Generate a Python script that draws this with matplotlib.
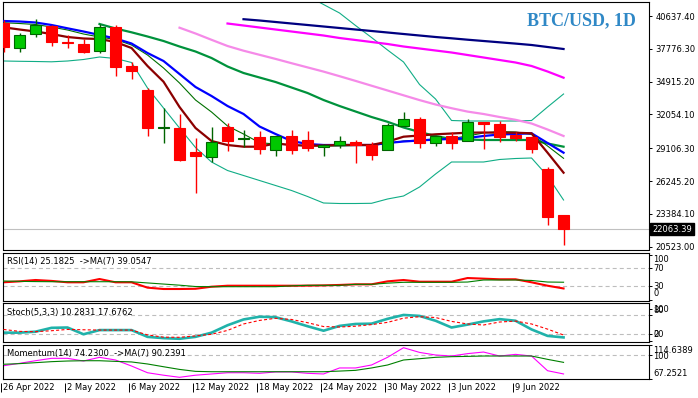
import numpy as np
import matplotlib
matplotlib.use("Agg")
import matplotlib.pyplot as plt
from matplotlib.transforms import blended_transform_factory as btf

nan = np.nan

# ---------------- data ----------------
tick_labels = ['26 Apr 2022', '2 May 2022', '6 May 2022', '12 May 2022', '18 May 2022',
               '24 May 2022', '30 May 2022', '3 Jun 2022', '9 Jun 2022']
label_every = 4

opens = [40053, 37847, 39068, 39766, 38300, 38196, 37586, 39678, 36278, 34185, 30850, 30872,
         28780, 28344, 30959, 29900, 30114, 28980, 30175, 29826, 29189, 29364, 29651, 29416,
         28980, 31073, 31657, 29538, 30148, 29765, 31395, 31221, 30236, 30087, 27297, 23287]
highs = [40289, 39155, 40350, 39853, 38981, 38632, 39940, 39853, 36627, 34360, 32616, 32093,
         30000, 30959, 31308, 30698, 30637, 30175, 30698, 30611, 29477, 30175, 29826, 29678,
         31308, 32267, 31831, 30175, 30550, 31631, 31395, 31456, 30523, 30175, 27498, 23287]
lows = [37525, 37525, 38780, 38022, 37847, 37411, 37440, 35406, 35144, 30175, 29564, 27995,
        25205, 27908, 28867, 29242, 28605, 28457, 28605, 28893, 28457, 29154, 27847, 28082,
        28954, 31047, 29155, 29329, 29041, 29739, 29067, 29678, 29765, 28719, 22415, 20671]
closes = [37961, 38981, 39853, 38370, 38283, 37499, 39678, 36191, 35842, 30872, 30872, 28082,
          28431, 29651, 29738, 29913, 29067, 30148, 28980, 29154, 29390, 29739, 29364, 28544,
          31134, 31657, 29538, 30148, 29538, 31395, 31247, 30114, 30026, 29067, 23138, 22063.39]

ma_maroon = [39652, 39460, 39286, 39068, 38806, 38676, 38632, 38370, 37847, 36278, 34909, 32703,
             30872, 29739, 29390, 29242, 29242, 29521, 29390, 29329, 29346, 29390, 29390, 29390,
             29678, 30114, 30218, 30323, 30393, 30462, 30480, 30462, 30462, 30410, 28719, 26975]
ma_blue = [40201, 40158, 40071, 39853, 39565, 39286, 38981, 38676, 38240, 37411, 36714, 35580,
           34447, 33662, 32790, 32093, 31003, 30349, 29739, 29477, 29390, 29390, 29390, 29390,
           29564, 29695, 29782, 29869, 29913, 30000, 30175, 30305, 30349, 30410, 29564, 28719]
ma_thin = [40053, 39983, 39896, 39678, 39417, 39068, 38806, 38588, 38109, 37237, 36104, 34796,
           33313, 32267, 31047, 30349, 29590, 29477, 29390, 29303, 29303, 29303, 29346, 29346,
           29520, 29739, 29826, 29913, 29957, 30175, 30436, 30567, 30523, 30305, 29303, 28230]
ma_green = [nan] * 6 + [39940, 39548, 39216, 38850, 38458, 37978, 37542, 36975, 36234, 35668,
                        35275, 34883, 34403, 33923, 33313, 32790, 32311, 31831, 31413, 30916,
                        30523, 30175, 29913, 29869, 29826, 29826, 29826, 29826, 29521, 29242]
ma_pink = [nan] * 11 + [39617, 39112, 38562, 38022, 37612, 37254, 36897, 36522, 36156, 35790,
                        35389, 34979, 34560, 34142, 33723, 33305, 32921, 32598, 32302, 32093,
                        31831, 31587, 31264, 30741, 30175]
ma_magenta = [nan] * 14 + [39983, 39809, 39635, 39460, 39286, 39112, 38937, 38719, 38545, 38370,
                           38196, 37978, 37804, 37629, 37455, 37237, 37019, 36801, 36583, 36278,
                           35798, 35258]
ma_navy = [nan] * 15 + [40358, 40245, 40114, 39983, 39853, 39722, 39591, 39460, 39330, 39199,
                        39068, 38937, 38806, 38693, 38571, 38458, 38344, 38231, 38109, 37935,
                        37760]
bb_upper = [nan] * 19 + [42381, 41640, 40899, 39809, 38763, 37673, 36627, 34665, 33401, 31526,
                         31482, 31482, 31482, 31482, 31526, 32703, 33837]
bb_lower = [36714, 36688, 36670, 36644, 36714, 36845, 37063, 36932, 36583, 34360, 32616, 30872,
            29172, 27908, 27166, 26731, 26295, 25859, 25423, 24900, 24333, 24289, 24289, 24307,
            24682, 24943, 25728, 26861, 27908, 27908, 27908, 28126, 28213, 28256, 26687, 24594]

price_ticks = [40637.40, 37776.30, 34915.20, 32054.10, 29106.30, 26245.20, 23384.10, 20523.00]
last_price = 22063.39

rsi = [38.9, 41, 44, 42, 38.9, 38.9, 46.2, 38.9, 38.9, 27, 24, 24, 24.5, 29.1, 31.3, 31.3,
       31.3, 31.3, 31.3, 31.5, 32, 33, 34.4, 34.4, 41, 44, 40.2, 40.2, 40.2, 48.4, 47, 45.6,
       45.6, 38.9, 31.3, 25.1825]
rsi_ma = [41.8, 41, 40.5, 40.2, 40.2, 40.2, 40.2, 40.2, 40, 37.5, 35, 32.5, 29.5, 29.1, 29.1,
          29.1, 29.1, 29.1, 31, 32.2, 32.2, 32.2, 34.4, 34.4, 37, 38.9, 38.9, 38.9, 38.9, 39.5,
          44, 44, 44, 43, 39.5, 39.0547]
stoch_k = [25, 25, 28, 40, 41, 20, 33, 33, 33, 12, 8, 6, 12, 25, 48, 66, 74.5, 73, 60, 45, 31,
           46, 52, 53, 68, 80, 77, 62, 41, 50, 60, 67, 62, 35, 15, 10.2831]
stoch_d = [35, 29, 28, 31, 35, 34, 33, 33, 33, 18, 11, 10.6, 15, 20, 32, 52, 63, 69.6, 66, 56,
           44, 42.5, 45, 50, 57, 70, 74.5, 72, 60, 52, 48.8, 58, 61, 52, 36, 17.6762]
momentum = [85.6, 88.9, 92.5, 95.8, 95.8, 92.1, 97.2, 93.5, 85.2, 75.9, 72.5, 69.6, 72.5, 74.2,
            75.9, 75.9, 75.1, 77, 77, 75.1, 74.2, 82.5, 82.5, 86.6, 97.2, 110.5, 104, 100.4, 99,
            102.3, 104.5, 99, 101.3, 99, 78.7, 74.23]
mom_ma = [87.6, 88.5, 89.8, 91.2, 92.1, 92.5, 92.5, 91.6, 90.8, 88, 84.2, 80.5, 77.8, 77.3, 77.3,
          77.3, 77.3, 77.3, 77.3, 77.3, 77.3, 78.2, 79.2, 82.5, 86.6, 93.5, 95.3, 97.2, 98.1,
          98.5, 99, 99, 99, 99, 94.4, 90.2391]

rsi_levels = [70, 30]
stoch_levels = [80, 20]
mom_levels = [100]
mom_max, mom_min = 114.6389, 67.2521

# ---------------- figure ----------------
plt.rcParams['font.family'] = ['DejaVu Sans']
plt.rcParams['lines.scale_dashes'] = False

W, H = 698, 398
fig = plt.figure(figsize=(W / 100, H / 100), dpi=100)
fig.patch.set_facecolor('white')
L, R = 2.5, 649.0
n = len(closes)
x = np.arange(n)
XL = (-0.0625, 40.34)


def panel(top, bottom):
    a = fig.add_axes([L / W, 1 - bottom / H, (R - L) / W, (bottom - top) / H])
    for s in a.spines.values():
        s.set_linewidth(0.8)
        s.set_color('black')
    a.set_xlim(*XL)
    a.set_xticks([])
    a.yaxis.tick_right()
    a.tick_params(axis='y', direction='out', length=2.2, width=0.7, labelsize=6, pad=2.4,
                  colors='black')
    return a


ax = panel(2.3, 249.5)
ax_rsi = panel(252.7, 301.0)
ax_sto = panel(303.3, 342.0)
ax_mom = panel(344.7, 379.0)

# ---- main price panel ----
ax.set_ylim(20278.5, 41832)
ax.axhline(last_price, color='#c0c0c0', lw=0.8, zorder=1)
ax.plot(x, bb_upper, color='#10ad86', lw=0.8, zorder=2)
ax.plot(x, bb_lower, color='#10ad86', lw=0.8, zorder=2)
ax.plot(x, ma_navy, color='#000080', lw=1.6, zorder=3)
ax.plot(x, ma_magenta, color='#ff00ff', lw=1.6, zorder=3)
ax.plot(x, ma_pink, color='#f58ae8', lw=1.6, zorder=3)
ax.plot(x, ma_green, color='#00923c', lw=1.6, zorder=3)
ax.plot(x, ma_thin, color='#007000', lw=0.8, zorder=3)
ax.plot(x, ma_blue, color='#0000ff', lw=1.6, zorder=3)
ax.plot(x, ma_maroon, color='#8b0000', lw=1.6, zorder=3)

o, h, l, c = (np.array(v, dtype=float) for v in (opens, highs, lows, closes))
up = c > o
body_col = np.where(up, '#00c800', '#ff0000')
edge_col = np.where(up, '#006400', '#ff0000')
ax.vlines(x, l, h, colors=edge_col, linewidth=1.0, zorder=5)
ax.bar(x, np.maximum(np.abs(c - o), 90), bottom=np.minimum(o, c), width=0.64,
       color=body_col, edgecolor=edge_col, linewidth=0.8, zorder=6)

ax.set_yticks(price_ticks)
ax.set_yticklabels([f'{v:.2f}' for v in price_ticks])
ax.annotate(f'{last_price:.2f}', xy=(1, last_price), xycoords=btf(ax.transAxes, ax.transData),
            xytext=(2.3, 0), textcoords='offset points', ha='left', va='center', fontsize=6,
            color='white', bbox=dict(boxstyle='square,pad=0.22', fc='black', ec='black'),
            annotation_clip=False, zorder=10)

fig.text(636 / W, 1 - 25.5 / H, 'BTC/USD, 1D', ha='right', va='baseline', fontsize=13,
         fontweight='bold', family='Liberation Serif', color='#2f88c6')

dash_grid = dict(color='#bdbdbd', lw=0.8, ls=(0, (2.9, 2.2)), zorder=1)

# ---- RSI ----
ax_rsi.set_ylim(-2.67, 104.7)
for lv in rsi_levels:
    ax_rsi.axhline(lv, **dash_grid)
ax_rsi.plot(x, rsi_ma, color='#008000', lw=0.8, zorder=3)
ax_rsi.plot(x, rsi, color='#ff0000', lw=1.5, zorder=2)
ax_rsi.set_yticks([100] + rsi_levels + [0])
ax_rsi.set_yticklabels([])

# ---- Stochastic ----
ax_sto.set_ylim(-4.0, 116.2)
for lv in stoch_levels:
    ax_sto.axhline(lv, **dash_grid)
ax_sto.plot(x, stoch_d, color='#ff0000', lw=0.8, ls=(0, (2.2, 1.6)), zorder=3)
ax_sto.plot(x, stoch_k, color='#20b2aa', lw=1.9, zorder=2)
ax_sto.set_yticks([100] + stoch_levels + [0])
ax_sto.set_yticklabels([])

# ---- Momentum ----
ax_mom.set_ylim(mom_min, mom_max)
for lv in mom_levels:
    ax_mom.axhline(lv, **dash_grid)
ax_mom.plot(x, mom_ma, color='#008000', lw=0.8, zorder=3)
ax_mom.plot(x, momentum, color='#ff00ff', lw=0.8, zorder=2)
ax_mom.set_yticks([mom_max] + mom_levels + [mom_min])
ax_mom.set_yticklabels([])

# right-hand scale labels of the indicator panels (pixel rows as in MT4)
side_labels = [('100', 259.3), ('70', 268.3), ('30', 286.7), ('0', 293.3),
               ('100', 309.8), ('80', 310.3), ('20', 334.3), ('0', 334.3),
               (f'{mom_max:.4f}', 350.7), (f'{mom_levels[0]}', 356.2), (f'{mom_min:.4f}', 373.3)]
for txt, ypx in side_labels:
    fig.text(653.5 / W, 1 - ypx / H, txt, ha='left', va='center', fontsize=6, color='black')

# indicator captions
fig.text(7 / W, 1 - 261.7 / H, f'RSI(14) {rsi[-1]:.4f}  ->MA(7) {rsi_ma[-1]:.4f}',
         ha='left', va='center', fontsize=6)
fig.text(7 / W, 1 - 312.7 / H, f'Stoch(5,3,3) {stoch_k[-1]:.4f} {stoch_d[-1]:.4f}',
         ha='left', va='center', fontsize=6)
fig.text(7 / W, 1 - 353.3 / H, f'Momentum(14) {momentum[-1]:.4f}  ->MA(7) {mom_ma[-1]:.4f}',
         ha='left', va='center', fontsize=6)

# date labels under the bottom panel
tr = btf(ax_mom.transData, ax_mom.transAxes)
for k, lab in enumerate(tick_labels):
    xi = k * label_every
    ax_mom.vlines(xi - 0.16, -0.11, -0.38, transform=tr, clip_on=False, color='black', lw=0.7)
    ax_mom.text(xi - 0.02, -0.255, lab, transform=tr, ha='left', va='center', fontsize=6,
                clip_on=False)

fig.savefig('out.png', dpi=100, facecolor='white')
